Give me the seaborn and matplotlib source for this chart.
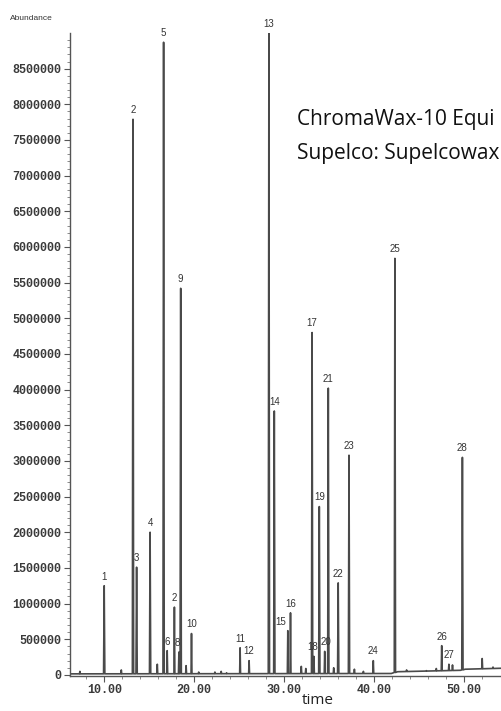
import numpy as np
import pandas as pd
import matplotlib
matplotlib.use("Agg")
import matplotlib.pyplot as plt
import seaborn as sns

# labelled peaks: retention time (min), abundance at apex
peak_labels = ["1", "2", "3", "4", "5", "6", "2", "8", "9", "10",
               "11", "12", "13", "14", "15", "16", "17", "18", "19", "20",
               "21", "22", "23", "24", "25", "26", "27", "28"]
peak_time = [10.0, 13.2, 13.6, 15.1, 16.6, 17.0, 17.8, 18.3, 18.5, 19.7,
             25.1, 26.1, 28.3, 28.9, 30.4, 30.7, 33.1, 33.3, 33.9, 34.5,
             34.9, 36.0, 37.2, 39.9, 42.3, 47.5, 48.3, 49.8]
peak_height = [1250000, 7790000, 1510000, 2000000, 8870000, 340000, 950000, 320000, 5420000, 580000,
               380000, 200000, 9000000, 3700000, 620000, 870000, 4800000, 260000, 2360000, 330000,
               4020000, 1290000, 3080000, 200000, 5840000, 410000, 150000, 3050000]

# small unlabelled peaks
minor_time = [7.3, 11.9, 15.9, 19.1, 20.5, 22.3, 23.0, 23.6, 31.9, 32.4, 35.5,
              37.8, 38.8, 43.6, 45.8, 46.9, 48.7, 52.0, 53.2]
minor_height = [50000, 70000, 150000, 130000, 40000, 40000, 50000, 30000, 120000, 90000, 100000,
                80000, 50000, 70000, 60000, 90000, 140000, 230000, 110000]

# baseline drift
base_time = [6.2, 41.9, 42.6, 49.6, 50.1, 54.5]
base_level = [15000, 20000, 45000, 65000, 80000, 95000]

# title lines (cut off at the right edge in the original)
title_lines = ["ChromaWax-10 Equi", "Supelco: Supelcowax"]

# build trace
all_t = np.array(peak_time + minor_time)
all_h = np.array(peak_height + minor_height)
order = np.argsort(all_t)
pts_t, pts_v = list(base_time), list(base_level)
for t, h in zip(all_t[order], all_h[order]):
    b = np.interp(t, base_time, base_level)
    w = 0.07 if h > 1000000 else 0.05
    pts_t += [t - w, t, t + w]
    pts_v += [b, h, b]
trace = pd.DataFrame({"time": pts_t, "abundance": pts_v}).sort_values("time", kind="stable")

sns.set_style("ticks")
fig = plt.figure(figsize=(5.02, 7.11), dpi=100)
ax = fig.add_axes([70 / 502, 35 / 711, 432 / 502, 643 / 711])

sns.lineplot(data=trace, x="time", y="abundance", ax=ax, color="#4a4a4a",
             linewidth=1.2, sort=False, estimator=None)

ax.set_xlim(6.2, 54.2)
ax.set_ylim(-15000, 9000000)

nudge = {"15": -5, "18": -1, "20": 1, "8": -1}
for lab, t, h in zip(peak_labels, peak_time, peak_height):
    ax.annotate(lab, (t, min(h, 9000000)), xytext=(nudge.get(lab, 0), 3),
                textcoords="offset points", ha="center", va="bottom",
                fontsize=7, color="#333333", family="Liberation Sans",
                annotation_clip=False)

ax.set_xticks([10, 20, 30, 40, 50])
ax.set_xticklabels(["10.00", "20.00", "30.00", "40.00", "50.00"])
ax.set_xticks(np.arange(8, 54, 2), minor=True)
ax.set_yticks(np.arange(0, 9000000, 500000))
ax.set_yticklabels([str(v) for v in range(0, 9000000, 500000)])
ax.set_yticks(np.arange(0, 9000000, 100000), minor=True)
for lbl in ax.get_xticklabels() + ax.get_yticklabels():
    lbl.set_family("Liberation Mono")
    lbl.set_fontweight("bold")
    lbl.set_fontsize(8.5)
    lbl.set_color("#3a3a3a")
ax.tick_params(axis="both", which="major", length=4, width=0.8, colors="#555555",
               labelcolor="#3a3a3a", pad=2)
ax.tick_params(axis="both", which="minor", length=2, width=0.6, colors="#777777")

sns.despine(ax=ax, top=True, right=True)
for s in ["left", "bottom"]:
    ax.spines[s].set_color("#555555")
    ax.spines[s].set_linewidth(1.0)

ax.set_xlabel("")
ax.set_ylabel("")
fig.text(10 / 502, 1 - 18 / 711, "Abundance", fontsize=6, color="#333333",
         family="Liberation Sans", va="center", ha="left")
fig.text(318 / 502, 1 - 700 / 711, "time", fontsize=11, color="#222222",
         family="Open Sans", va="center", ha="center")

fig.text(297 / 502, 1 - 120 / 711, title_lines[0], fontsize=15,
         color="#111111", family="Open Sans", va="center", ha="left")
fig.text(297 / 502, 1 - 153 / 711, title_lines[1], fontsize=15,
         color="#111111", family="Open Sans", va="center", ha="left")

fig.savefig("out.png", dpi=100)
